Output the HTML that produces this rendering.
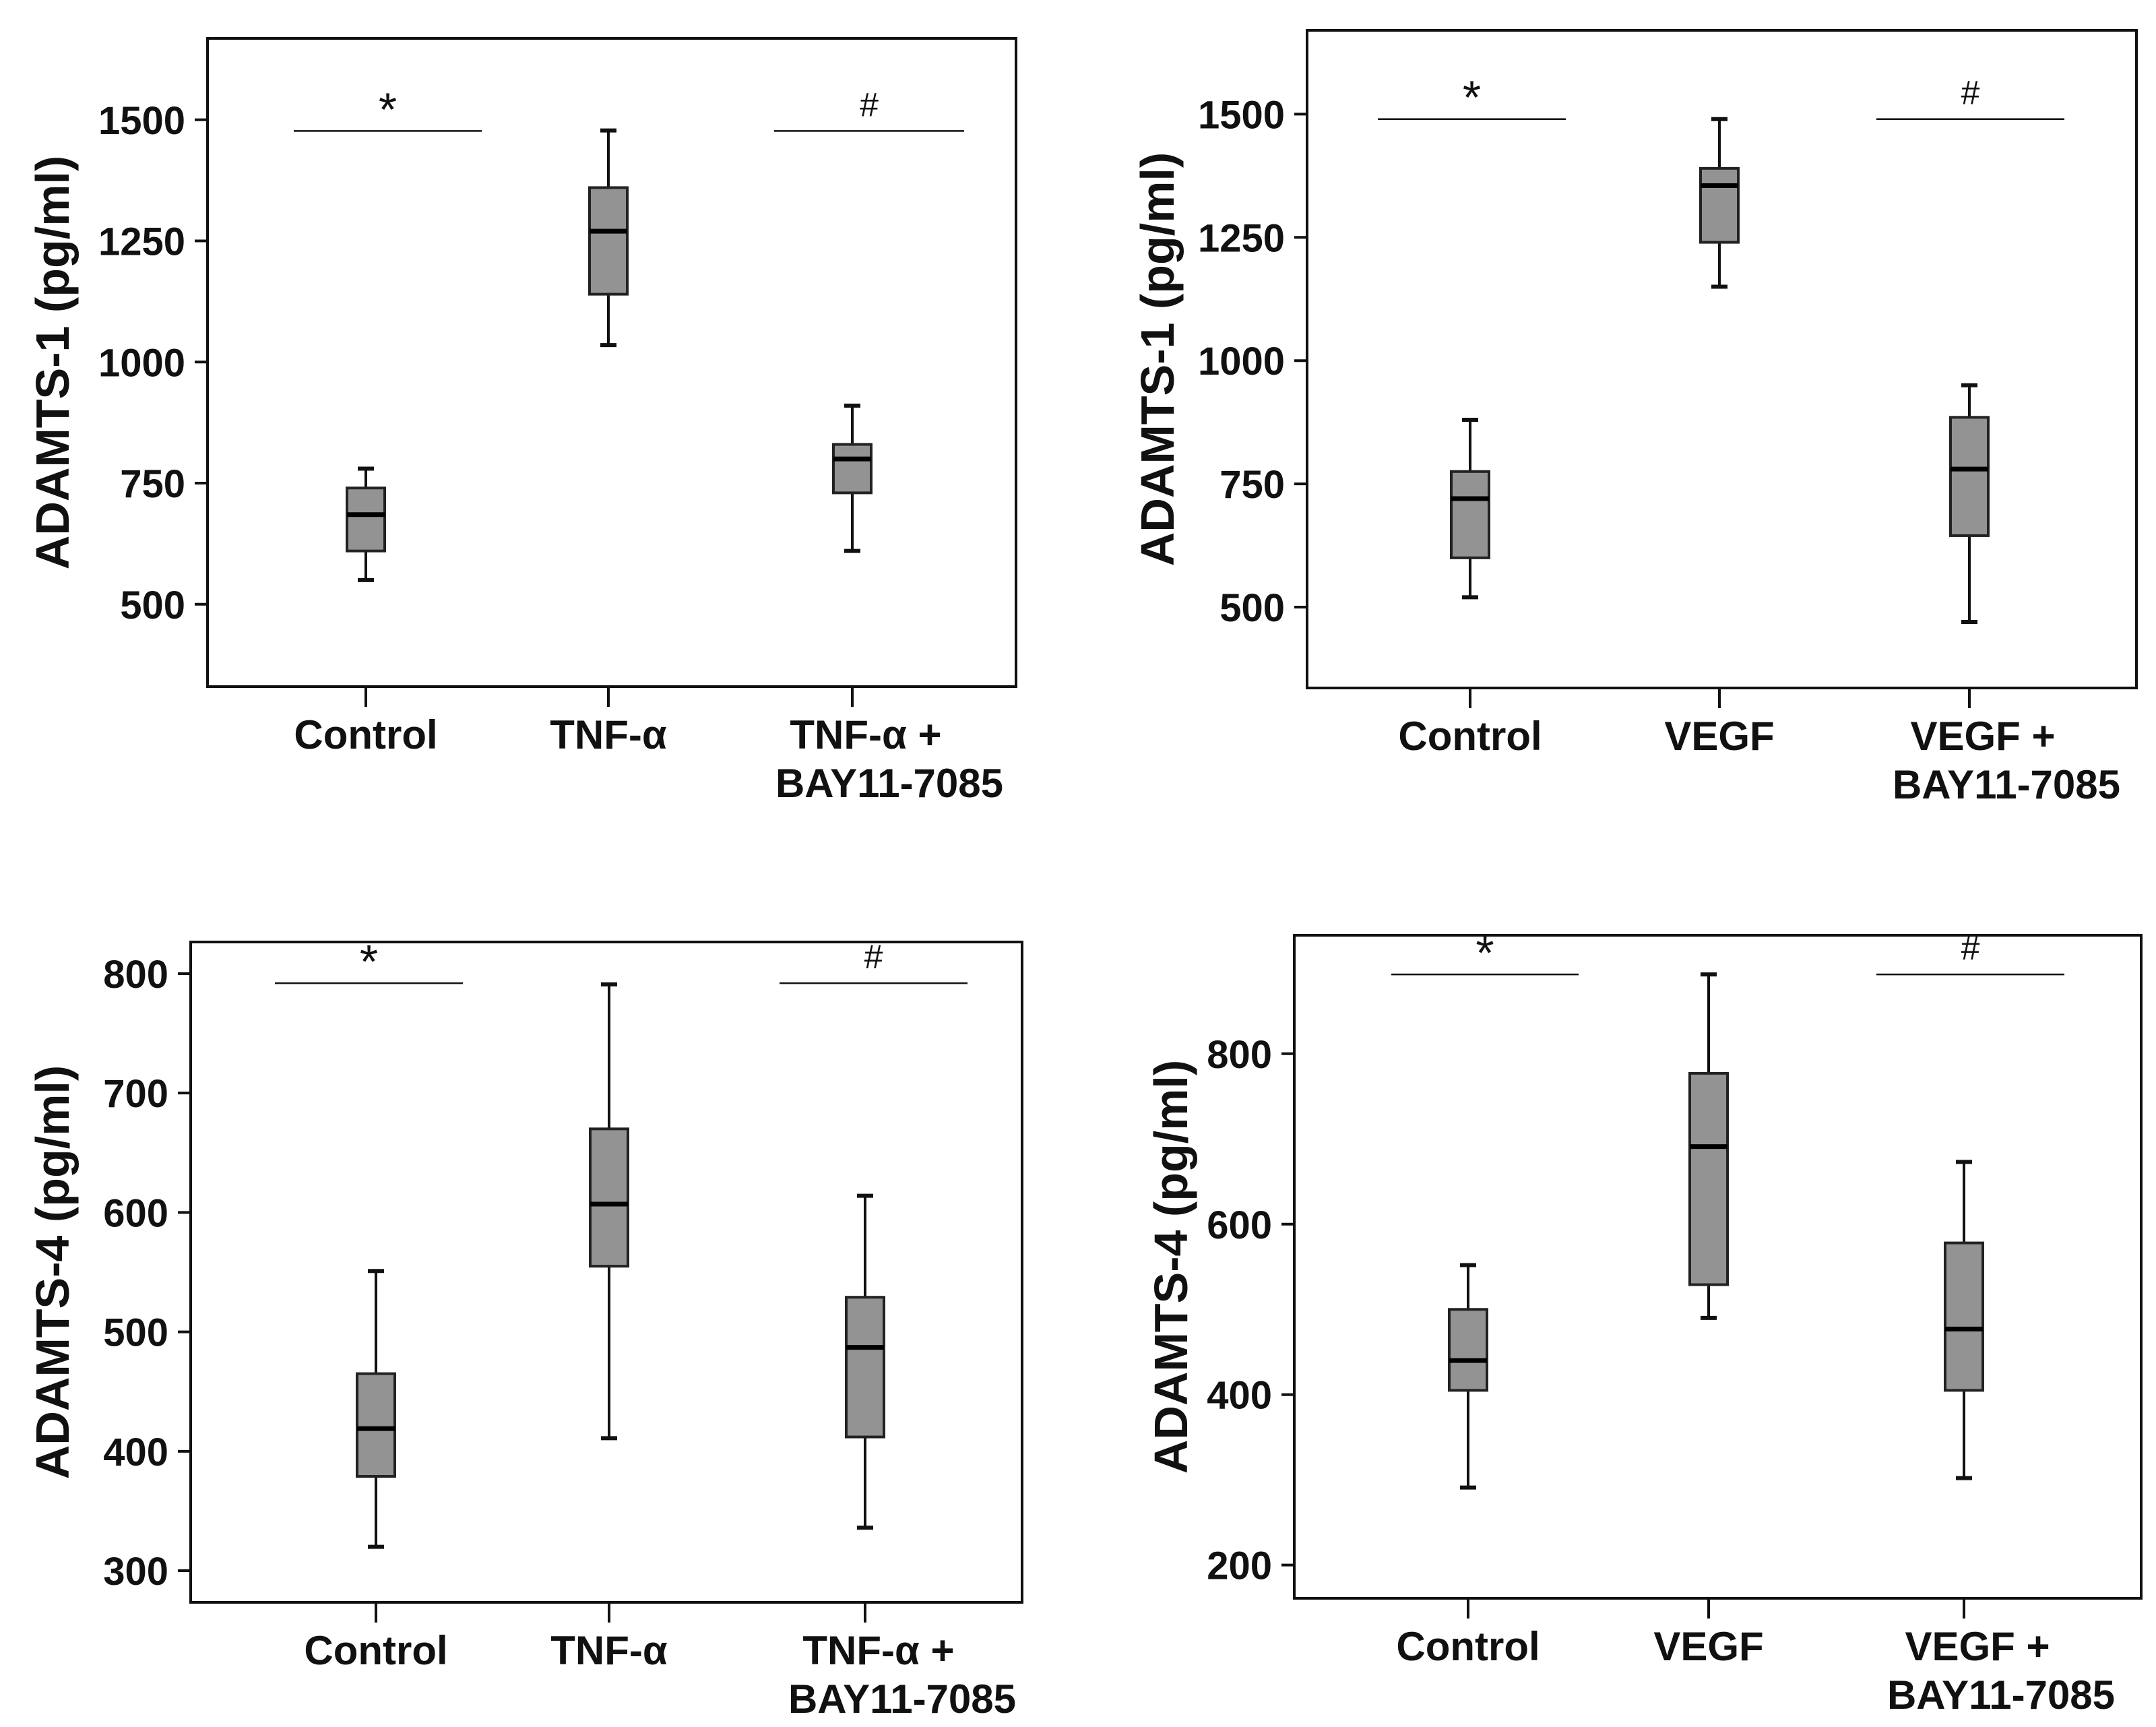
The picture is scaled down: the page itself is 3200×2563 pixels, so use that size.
<!DOCTYPE html>
<html><head><meta charset="utf-8">
<style>
html,body{margin:0;padding:0;background:#fff;}
svg{display:block;}
text{font-family:"Liberation Sans",Arial,sans-serif;}
</style></head>
<body>
<svg id="fig" xmlns="http://www.w3.org/2000/svg" width="3200" height="2563" viewBox="0 0 3200 2563"></svg>
<script>
// ---- Data ----
const categoriesTNF = ["Control", "TNF-α", "TNF-α +|BAY11-7085"];
const categoriesVEGF = ["Control", "VEGF", "VEGF +|BAY11-7085"];
// [whiskerLow, q1, median, q3, whiskerHigh]
const adamts1TNF = [[550,610,685,740,780],[1035,1140,1270,1360,1478],[610,730,800,830,910]];
const adamts1VEGF = [[520,600,720,775,880],[1150,1240,1355,1390,1490],[470,645,780,885,950]];
const adamts4TNF = [[320,379,419,465,551],[411,555,607,670,791],[336,412,487,529,614]];
const adamts4VEGF = [[291,405,440,500,552],[490,529,691,777,893],[302,405,477,578,673]];
const ticks1 = [500,750,1000,1250,1500];
const ticks4a = [300,400,500,600,700,800];
const ticks4b = [200,400,600,800];
const sigValues1a = [1477], sigValues1b = [1490], sigValues4a = [792], sigValues4b = [893];

const NS = "http://www.w3.org/2000/svg";
const svg = document.getElementById("fig");
function mk(tag, attrs, parent){
  const e = document.createElementNS(NS, tag);
  for (const k in attrs) e.setAttribute(k, attrs[k]);
  (parent||svg).appendChild(e);
  return e;
}

function panel(p){
  const g = mk("g", {});
  
  
  const y = v => p.bottom - (v - p.vmin) / (p.vmax - p.vmin) * (p.bottom - p.top);
  const fr = mk("rect", {x:p.left, y:p.top, width:p.right-p.left, height:p.bottom-p.top, fill:"none", stroke:"#111", "stroke-width":4}, g);
  
  
  p.ticks.forEach(t => {
    const ln = mk("line", {x1:p.left-19, x2:p.left, y1:y(t), y2:y(t), stroke:"#111", "stroke-width":4}, g);
    
    
    const tx = mk("text", {x:p.left-33, y:y(t)+21, "text-anchor":"end", "font-size":58, "font-weight":"bold", fill:"#111"}, g);
    tx.textContent = t;
    
    
  });
  const yc = (p.top + p.bottom) / 2;
  const yt = mk("text", {x:0, y:0, transform:`translate(${p.titleX},${yc}) rotate(-90)`, "text-anchor":"middle", "font-size":70, "font-weight":"bold", fill:"#111"}, g);
  yt.textContent = p.title;
  
  
  p.data.forEach((d, i) => {
    const cx = p.cx[i], hw = 28;
    const bg = mk("g", {}, g);
    
    
    mk("line", {x1:cx, x2:cx, y1:p.bottom, y2:p.bottom+30, stroke:"#111", "stroke-width":4}, bg);
    mk("line", {x1:cx, x2:cx, y1:y(d[0]), y2:y(d[4]), stroke:"#111", "stroke-width":4}, bg);
    mk("line", {x1:cx-12, x2:cx+12, y1:y(d[0]), y2:y(d[0]), stroke:"#111", "stroke-width":6}, bg);
    mk("line", {x1:cx-12, x2:cx+12, y1:y(d[4]), y2:y(d[4]), stroke:"#111", "stroke-width":6}, bg);
    mk("rect", {x:cx-hw, y:y(d[3]), width:hw*2, height:y(d[1])-y(d[3]), fill:"#939393", stroke:"#222", "stroke-width":4}, bg);
    mk("line", {x1:cx-hw, x2:cx+hw, y1:y(d[2]), y2:y(d[2]), stroke:"#000", "stroke-width":7}, bg);
    const parts = p.cats[i].split("|");
    parts.forEach((s, j) => {
      const tx = mk("text", {x:cx + (parts.length>1 ? 20 : 0) + (j? 35:0), y:p.bottom + 92 + j*72, "text-anchor":"middle", "font-size":60, "font-weight":"bold", fill:"#111"}, g);
      tx.textContent = s;
      
      
    });
  });
  [[p.sigA, "*", p.sigX[0]], [p.sigB, "#", p.sigX[1]]].forEach(([vals, sym, xs]) => {
    const sy = y(vals[0]);
    const l = mk("line", {x1:xs[0], x2:xs[1], y1:sy, y2:sy, stroke:"#111", "stroke-width":2.5}, g);
    
    
    const t = mk("text", {x:(xs[0]+xs[1])/2, y:sy - (sym=="*" ? 8 : 22), "text-anchor":"middle", "font-size":sym=="*" ? 70 : 50, fill:"#111", "font-family":"Liberation Serif, serif"}, g);
    t.textContent = sym;
    
    
  });
}

panel({name:"panel-adamts1-tnf", left:308, right:1508, top:57, bottom:1019, vmin:330, vmax:1668, ticks:ticks1,
  cx:[543,903,1265], data:adamts1TNF, cats:categoriesTNF, title:"ADAMTS-1 (pg/ml)", titleX:102,
  sigA:sigValues1a, sigB:sigValues1a, sigX:[[436,715],[1149,1431]]});
panel({name:"panel-adamts1-vegf", left:1940, right:3171, top:45, bottom:1021, vmin:336, vmax:1670, ticks:ticks1,
  cx:[2182,2552,2923], data:adamts1VEGF, cats:categoriesVEGF, title:"ADAMTS-1 (pg/ml)", titleX:1742,
  sigA:sigValues1b, sigB:sigValues1b, sigX:[[2045,2324],[2785,3064]]});
panel({name:"panel-adamts4-tnf", left:283, right:1517, top:1398, bottom:2378, vmin:273.5, vmax:826.5, ticks:ticks4a,
  cx:[558,904,1284], data:adamts4TNF, cats:categoriesTNF, title:"ADAMTS-4 (pg/ml)", titleX:102,
  sigA:sigValues4a, sigB:sigValues4a, sigX:[[408,687],[1157,1436]]});
panel({name:"panel-adamts4-vegf", left:1921, right:3178, top:1388, bottom:2372, vmin:161, vmax:939, ticks:ticks4b,
  cx:[2179,2536,2915], data:adamts4VEGF, cats:categoriesVEGF, title:"ADAMTS-4 (pg/ml)", titleX:1762,
  sigA:sigValues4b, sigB:sigValues4b, sigX:[[2065,2343],[2785,3064]]});
</script>
</body></html>
